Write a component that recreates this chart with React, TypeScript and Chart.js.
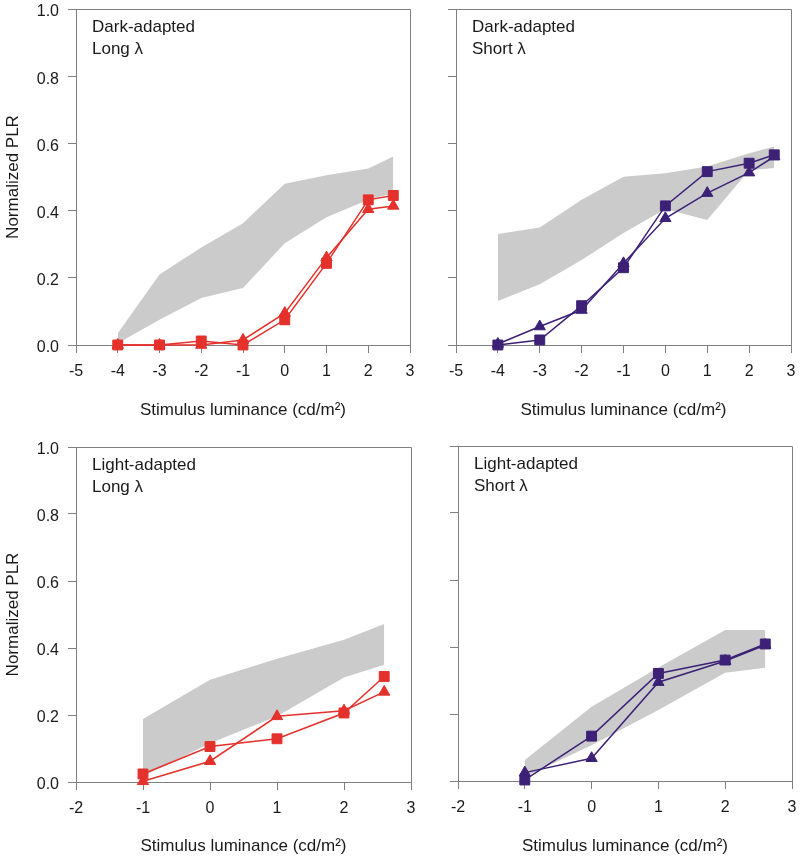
import React, { useEffect, useRef } from 'react';
import { Chart, registerables } from 'chart.js';

Chart.register(...registerables);

// ---------- data ----------
const darkX = [-4, -3, -2, -1, 0, 1, 2, 2.6];
const lightX = [-1, 0, 1, 2, 2.6];

const darkLongSquare = [0, 0, 0.012, 0, 0.075, 0.243, 0.432, 0.445];
const darkLongTriangle = [0, 0, 0, 0.015, 0.095, 0.26, 0.404, 0.414];
const darkLongBandUpper = [0.035, 0.21, 0.29, 0.362, 0.48, 0.505, 0.525, 0.561];
const darkLongBandLower = [0.005, 0.075, 0.14, 0.17, 0.303, 0.38, 0.432, 0.452];

const darkShortSquare = [0, 0.015, 0.117, 0.23, 0.414, 0.516, 0.541, 0.566];
const darkShortTriangle = [0.003, 0.055, 0.104, 0.243, 0.377, 0.452, 0.513, 0.561];
const darkShortBandUpper = [0.33, 0.35, 0.432, 0.501, 0.511, 0.531, 0.571, 0.591];
const darkShortBandLower = [0.131, 0.181, 0.253, 0.333, 0.405, 0.372, 0.52, 0.527];

const lightLongSquare = [0.024, 0.106, 0.129, 0.206, 0.315];
const lightLongTriangle = [0.002, 0.062, 0.196, 0.213, 0.269];
const lightLongBandUpper = [0.188, 0.305, 0.368, 0.425, 0.472];
const lightLongBandLower = [0.017, 0.116, 0.196, 0.312, 0.35];

const lightShortSquare = [0.003, 0.134, 0.321, 0.361, 0.409];
const lightShortTriangle = [0.025, 0.068, 0.295, 0.358, 0.406];
const lightShortBandUpper = [0.063, 0.222, 0.339, 0.451, 0.451];
const lightShortBandLower = [0.013, 0.107, 0.212, 0.323, 0.338];

const yTickStep = 0.2;
const xTitle = 'Stimulus luminance (cd/m²)';
const yTitle = 'Normalized PLR';

// ---------- styles ----------
const RED = '#e4312b';
const PURPLE = '#3c2177';
const BAND = '#cbcbcb';
const AXIS = '#808080';
const TEXT = '#1a1a1a';
const FONT = "'Liberation Sans', Arial, sans-serif";

type PanelCfg = {
  left: number; top: number; width: number; height: number;
  area: { l: number; r: number; t: number; b: number };
  xMin: number; xMax: number;
  xs: number[]; square: number[]; triangle: number[]; up: number[]; lo: number[];
  color: string; label: string[]; showY: boolean; titlePadB: number;
};

const panels: PanelCfg[] = [
  { left: 0, top: 0, width: 420, height: 428, area: { l: 76, r: 410, t: 9, b: 345 }, xMin: -5, xMax: 3,
    xs: darkX, square: darkLongSquare, triangle: darkLongTriangle, up: darkLongBandUpper, lo: darkLongBandLower,
    color: RED, label: ['Dark-adapted', 'Long λ'], showY: true, titlePadB: 7 },
  { left: 420, top: 0, width: 380, height: 428, area: { l: 456, r: 791, t: 9, b: 345 }, xMin: -5, xMax: 3,
    xs: darkX, square: darkShortSquare, triangle: darkShortTriangle, up: darkShortBandUpper, lo: darkShortBandLower,
    color: PURPLE, label: ['Dark-adapted', 'Short λ'], showY: false, titlePadB: 7 },
  { left: 0, top: 428, width: 420, height: 429, area: { l: 76, r: 411, t: 447, b: 782 }, xMin: -2, xMax: 3,
    xs: lightX, square: lightLongSquare, triangle: lightLongTriangle, up: lightLongBandUpper, lo: lightLongBandLower,
    color: RED, label: ['Light-adapted', 'Long λ'], showY: true, titlePadB: 0 },
  { left: 420, top: 428, width: 380, height: 429, area: { l: 458, r: 792, t: 446, b: 781 }, xMin: -2, xMax: 3,
    xs: lightX, square: lightShortSquare, triangle: lightShortTriangle, up: lightShortBandUpper, lo: lightShortBandLower,
    color: PURPLE, label: ['Light-adapted', 'Short λ'], showY: false, titlePadB: 0 },
];

function Panel({ cfg }: { cfg: PanelCfg }) {
  const ref = useRef<HTMLCanvasElement>(null);
  useEffect(() => {
    const c = cfg;
    const pts = (ys: number[]) => c.xs.map((x, i) => ({ x, y: ys[i] }));
    const yW = c.area.l - c.left;
    const xH = c.top + c.height - c.area.b;
    const padR = c.left + c.width - c.area.r;
    const padT = c.area.t - c.top;

    const boxPlugin = {
      id: 'boxAnno',
      afterDraw(chart: any) {
        const { ctx, chartArea: a } = chart;
        const L = Math.round(a.left) + 0.5;
        const R = Math.round(a.right) + 0.5;
        const T = Math.round(a.top) + 0.5;
        const B = Math.round(a.bottom) + 0.5;
        ctx.save();
        ctx.strokeStyle = AXIS;
        ctx.lineWidth = 1;
        ctx.beginPath();
        ctx.moveTo(L, T);
        ctx.lineTo(R, T);
        ctx.lineTo(R, B);
        ctx.stroke();
        ctx.fillStyle = TEXT;
        ctx.font = `17px ${FONT}`;
        ctx.textBaseline = 'alphabetic';
        ctx.textAlign = 'left';
        c.label.forEach((t, i) => ctx.fillText(t, a.left + 16, a.top + 23 + i * 22));
        ctx.restore();
      },
    };

    const gridOpts = { drawOnChartArea: false, drawTicks: true, tickLength: 8, color: AXIS, lineWidth: 1 };
    const borderOpts = { display: true, color: AXIS, width: 1 };

    const chart = new Chart(ref.current as HTMLCanvasElement, {
      type: 'line',
      data: {
        datasets: [
          { data: pts(c.square), borderColor: c.color, backgroundColor: c.color, pointStyle: 'rect',
            pointRadius: 7, pointBorderWidth: 1, pointBorderColor: c.color, pointBackgroundColor: c.color,
            borderWidth: 1.5, tension: 0, fill: false, order: 1, clip: false } as any,
          { data: pts(c.triangle), borderColor: c.color, backgroundColor: c.color, pointStyle: 'triangle',
            pointRadius: 6.5, pointBorderWidth: 1, pointBorderColor: c.color, pointBackgroundColor: c.color,
            borderWidth: 1.5, tension: 0, fill: false, order: 2, clip: false } as any,
          { data: pts(c.up), borderColor: 'rgba(0,0,0,0)', backgroundColor: BAND, borderWidth: 0,
            pointRadius: 0, fill: '+1', tension: 0, order: 10 } as any,
          { data: pts(c.lo), borderColor: 'rgba(0,0,0,0)', backgroundColor: BAND, borderWidth: 0,
            pointRadius: 0, fill: false, tension: 0, order: 11 } as any,
        ],
      },
      options: {
        animation: false,
        responsive: false,
        devicePixelRatio: 1,
        layout: { padding: { left: 0, right: padR, top: padT, bottom: 0 } },
        plugins: { legend: { display: false }, tooltip: { enabled: false } },
        scales: {
          x: {
            type: 'linear',
            min: c.xMin,
            max: c.xMax,
            afterFit: (s: any) => { s.height = xH; s.paddingLeft = 0; s.paddingRight = 0; },
            ticks: { stepSize: 1, autoSkip: false, maxRotation: 0, padding: 9, color: TEXT,
              font: { family: FONT, size: 16 }, callback: (v: any) => String(v) },
            grid: gridOpts,
            border: borderOpts,
            title: { display: true, text: xTitle, color: TEXT, font: { family: FONT, size: 17 },
              padding: { top: 0, bottom: c.titlePadB } },
          },
          y: {
            type: 'linear',
            min: 0,
            max: 1,
            afterFit: (s: any) => { s.width = yW; s.paddingTop = 0; s.paddingBottom = 0; },
            ticks: { stepSize: yTickStep, padding: 9, labelOffset: 3, color: TEXT, font: { family: FONT, size: 16 },
              callback: (v: any) => (c.showY ? Number(v).toFixed(1) : '') },
            grid: gridOpts,
            border: borderOpts,
            title: { display: c.showY, text: yTitle, color: TEXT, font: { family: FONT, size: 17 },
              padding: { top: 3, bottom: 0 } },
          },
        },
      } as any,
      plugins: [boxPlugin as any],
    });
    return () => chart.destroy();
  }, [cfg]);

  return (
    <canvas
      ref={ref}
      width={cfg.width}
      height={cfg.height}
      style={{ position: 'absolute', left: cfg.left, top: cfg.top, width: cfg.width, height: cfg.height }}
    />
  );
}

export default function App() {
  return (
    <div style={{ position: 'absolute', left: 0, top: 0, width: 800, height: 857, background: '#ffffff' }}>
      {panels.map((p, i) => (
        <Panel key={i} cfg={p} />
      ))}
    </div>
  );
}
